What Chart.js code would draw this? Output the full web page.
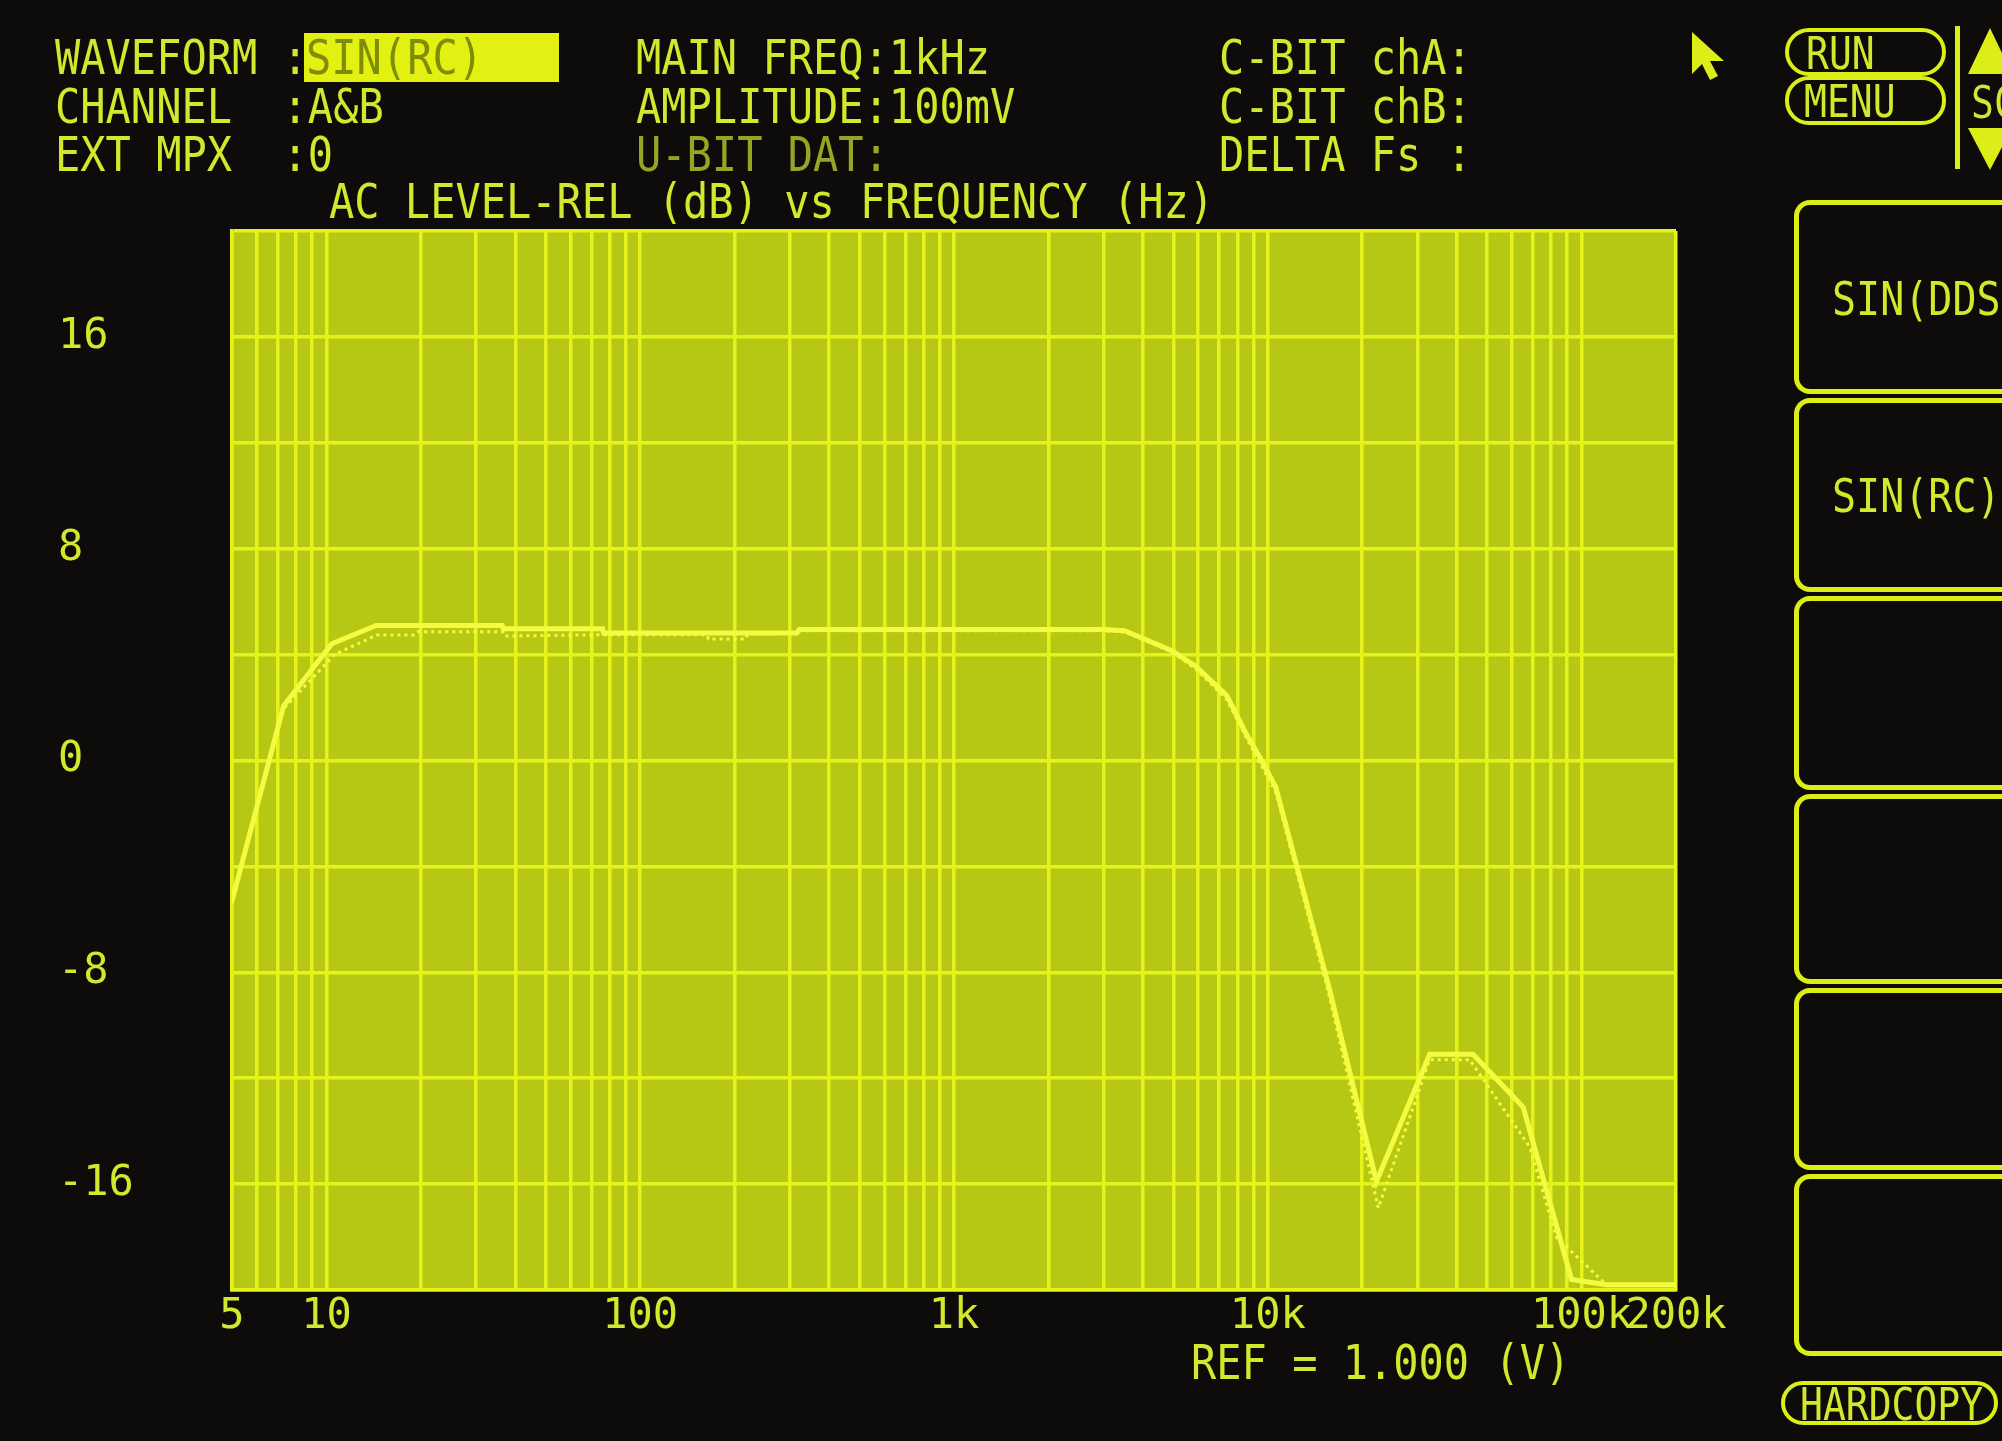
<!DOCTYPE html>
<html>
<head>
<meta charset="utf-8">
<script src="https://cdn.jsdelivr.net/npm/chart.js@4/dist/chart.umd.min.js"></script>
<style>
  html, body { margin:0; padding:0; }
  body { width:2002px; height:1441px; overflow:hidden; position:relative; background:#0e0c0a; }
  #c { position:absolute; left:0; top:0; }
  .t { position:absolute; font-family:"DejaVu Sans Mono", monospace; font-size:42px; line-height:42px;
       color:#d3e72c; white-space:pre; transform:scaleY(1.15); transform-origin:left center; }
  .dim { color:#95a624; }
  .box { position:absolute; border:5px solid #dbee18; box-sizing:border-box; }
</style>
</head>
<body>
<canvas id="c" width="2002" height="1441"></canvas>

<!-- header text -->
<div class="t" style="left:55px;top:37px;">WAVEFORM :</div>
<div style="position:absolute;left:304px;top:33px;width:255px;height:49px;background:#e2f012;"></div>
<div class="t" style="left:306px;top:37px;color:#7f8d06;">SIN(RC)</div>
<div class="t" style="left:55px;top:86px;">CHANNEL  :A&amp;B</div>
<div class="t" style="left:55px;top:134px;">EXT MPX  :0</div>
<div class="t" style="left:636px;top:37px;">MAIN FREQ:1kHz</div>
<div class="t" style="left:636px;top:86px;">AMPLITUDE:100mV</div>
<div class="t dim" style="left:636px;top:134px;">U-BIT DAT:</div>
<div class="t" style="left:1219px;top:37px;">C-BIT chA:</div>
<div class="t" style="left:1219px;top:86px;">C-BIT chB:</div>
<div class="t" style="left:1219px;top:134px;">DELTA Fs :</div>
<div class="t" style="left:329px;top:181px;">AC LEVEL-REL (dB) vs FREQUENCY (Hz)</div>
<div class="t" style="left:1191px;top:1342px;">REF = 1.000 (V)</div>

<!-- cursor arrow -->
<svg style="position:absolute;left:1688px;top:28px;" width="50" height="56">
  <polygon points="4,4 4,46 14,36 22,52 30,48 22,33 36,33" fill="#dbee18"/>
</svg>

<!-- RUN / MENU buttons -->
<div class="box" style="left:1785px;top:28px;width:161px;height:48px;border-width:4px;border-radius:24px;"></div>
<div class="t" style="left:1806px;top:33px;font-size:38px;">RUN</div>
<div class="box" style="left:1785px;top:76px;width:161px;height:49px;border-width:4px;border-radius:24px;"></div>
<div class="t" style="left:1804px;top:81px;font-size:38px;">MENU</div>
<div style="position:absolute;left:1955px;top:26px;width:5px;height:143px;background:#dbee18;"></div>
<svg style="position:absolute;left:1964px;top:24px;" width="40" height="150">
  <polygon points="4,50 26,4 48,50" fill="#dbee18"/>
  <polygon points="4,104 48,104 26,146" fill="#dbee18"/>
</svg>
<div class="t" style="left:1971px;top:82px;font-size:38px;">SC</div>

<!-- soft keys -->
<div class="box" style="left:1794px;top:200px;width:260px;height:194px;border-right:none;border-radius:16px 0 0 16px;"></div>
<div class="box" style="left:1794px;top:398px;width:260px;height:194px;border-right:none;border-radius:16px 0 0 16px;"></div>
<div class="box" style="left:1794px;top:596px;width:260px;height:194px;border-right:none;border-radius:16px 0 0 16px;"></div>
<div class="box" style="left:1794px;top:794px;width:260px;height:190px;border-right:none;border-radius:16px 0 0 16px;"></div>
<div class="box" style="left:1794px;top:988px;width:260px;height:182px;border-right:none;border-radius:16px 0 0 16px;"></div>
<div class="box" style="left:1794px;top:1174px;width:260px;height:182px;border-right:none;border-radius:16px 0 0 16px;"></div>
<div class="t" style="left:1832px;top:278px;font-size:40px;">SIN(DDS)</div>
<div class="t" style="left:1832px;top:475px;font-size:40px;">SIN(RC)</div>

<!-- hardcopy -->
<div class="box" style="left:1781px;top:1381px;width:217px;height:44px;border-width:4px;border-radius:22px;"></div>
<div class="t" style="left:1800px;top:1384px;font-size:38px;">HARDCOPY</div>

<script>
// ---- data ----
const freqA  = [5, 7.3, 10.4, 14.4, 36.3, 36.6, 75.8, 76.5, 316, 321, 3000, 3500, 4950, 5900, 7400, 8500, 9400, 10600, 15700, 22200, 32800, 45100, 65200, 92900, 120000, 200000];
const levelA = [-5.3, 2.06, 4.41, 5.1, 5.1, 4.98, 4.98, 4.82, 4.82, 4.95, 4.95, 4.9, 4.15, 3.55, 2.45, 1.05, 0.15, -1.0, -8.6, -15.9, -11.1, -11.1, -13.1, -19.6, -19.8, -19.8];

const freqB  = [5, 7.3, 10.6, 14.5, 19, 19.5, 36.5, 37, 76, 163, 165, 217, 220, 316, 321, 3000, 3500, 4950, 5900, 7400, 8500, 9400, 10600, 15700, 22500, 32800, 44000, 68400, 83000, 120000, 200000];
const levelB = [-5.4, 1.95, 4.0, 4.74, 4.74, 4.86, 4.86, 4.7, 4.75, 4.75, 4.59, 4.59, 4.78, 4.8, 4.9, 4.9, 4.85, 4.1, 3.45, 2.3, 0.9, -0.05, -1.2, -8.9, -16.9, -11.3, -11.3, -14.6, -18.0, -19.8, -19.8];

const xGrid = [5,6,7,8,9,10,20,30,40,50,60,70,80,90,100,200,300,400,500,600,700,800,900,
               1000,2000,3000,4000,5000,6000,7000,8000,9000,10000,20000,30000,40000,50000,60000,70000,80000,90000,100000,200000];
const xLabels = {5:'5', 10:'10', 100:'100', 1000:'1k', 10000:'10k', 100000:'100k', 200000:'200k'};
const yLabelValues = [16, 8, 0, -8, -16];

// ---- styles ----
const textColor = '#d3e72c';
const gridColor = '#e6f31a';
const plotFill  = '#b7c814';
const traceColor = '#f3fc40';
const tickFont = {family:'DejaVu Sans Mono', size:42};

const plotBg = {
  id:'plotBg',
  beforeDraw(chart){
    const {ctx, chartArea:a} = chart;
    ctx.save();
    ctx.fillStyle = plotFill;
    ctx.fillRect(a.left, a.top, a.right - a.left, a.bottom - a.top);
    ctx.restore();
  }
};

new Chart(document.getElementById('c'), {
  type:'line',
  data:{
    datasets:[
      {
        label:'chA',
        data: freqA.map((f,i)=>({x:f, y:levelA[i]})),
        borderColor: traceColor, borderWidth: 5, pointRadius: 0, tension: 0, fill:false
      },
      {
        label:'chB',
        data: freqB.map((f,i)=>({x:f, y:levelB[i]})),
        borderColor: traceColor, borderWidth: 3, borderDash:[3,4], pointRadius: 0, tension: 0, fill:false
      }
    ]
  },
  options:{
    responsive:false,
    animation:false,
    layout:{padding:{left:58, top:231, right:326, bottom:0}},
    plugins:{legend:{display:false}, title:{display:false}, tooltip:{enabled:false}},
    scales:{
      x:{
        type:'logarithmic', min:5, max:200000,
        afterBuildTicks: s => { s.ticks = xGrid.map(v => ({value:v})); },
        afterFit: s => { s.height = 151; },
        grid:{color:gridColor, lineWidth:3.5, drawTicks:false},
        border:{display:true, color:gridColor, width:3.5},
        ticks:{
          autoSkip:false, maxRotation:0, minRotation:0, padding:2,
          color:textColor, font:tickFont,
          callback:(v) => (xLabels[v] !== undefined ? xLabels[v] : '')
        }
      },
      y:{
        min:-20, max:20,
        afterFit: s => { s.width = 174; },
        grid:{color:gridColor, lineWidth:3.5, drawTicks:false},
        border:{display:true, color:gridColor, width:3.5},
        ticks:{
          stepSize:4, autoSkip:false, crossAlign:'far', padding:0,
          color:textColor, font:tickFont,
          callback:(v) => (yLabelValues.includes(v) ? String(v) : '')
        }
      }
    }
  },
  plugins:[plotBg]
});
</script>
</body>
</html>
